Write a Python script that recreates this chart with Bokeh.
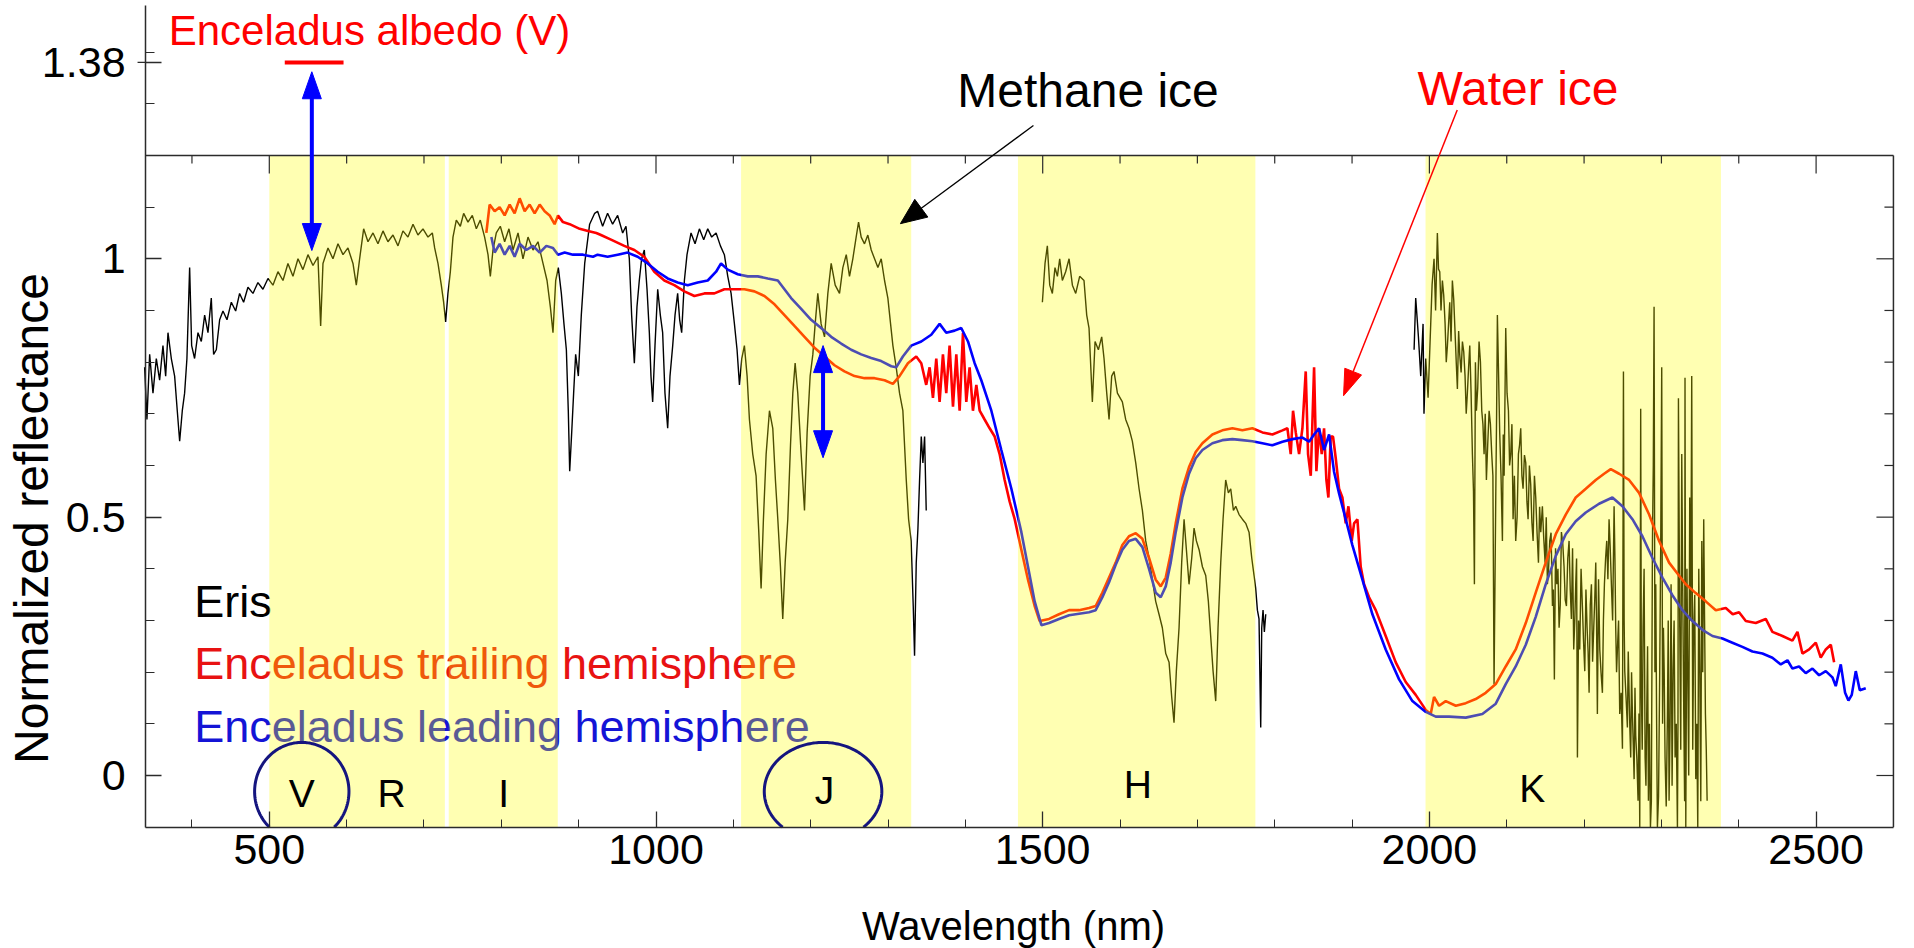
import math
import numpy as np
from bokeh.plotting import figure
from bokeh.models import FixedTicker, CustomJSTickFormatter, Range1d
from bokeh.core.properties import value
from bokeh.embed import file_html
from bokeh.resources import INLINE

# ---------------- data (wavelength nm, normalized reflectance) ----------------
eris_vis = [(338.8,0.790),(341.8,0.689),(345.3,0.815),(349.6,0.740),(353.9,0.807),(358.2,0.765),(362.5,0.832),(366.0,0.773),(369.0,0.857),(373.3,0.807),(377.6,0.773),(381.0,0.706),(384.1,0.647),(387.5,0.706),(390.5,0.740),(393.5,0.807),(397.0,0.983),(399.6,0.832),(403.4,0.807),(407.8,0.857),(412.1,0.840),(416.4,0.891),(420.7,0.857),(425.0,0.924),(428.0,0.815),(431.5,0.824),(435.8,0.882),(440.1,0.899),(445.3,0.882),(450.9,0.916),(456.5,0.899),(461.6,0.933),(466.8,0.916),(472.4,0.945),(478.9,0.933),(485.3,0.954),(491.8,0.941),(498.3,0.962),(504.7,0.949),(511.2,0.975),(517.7,0.958),(524.1,0.991),(530.6,0.966),(537.1,1.000),(543.5,0.979),(550.0,1.008),(556.5,0.987),(562.9,1.004),(566.4,0.870),(569.4,0.991),(575.9,1.021),(582.3,1.000),(588.8,1.029),(595.3,1.008),(601.7,1.021),(608.2,0.991),(612.5,0.949),(616.8,1.000),(622.0,1.058),(627.6,1.033),(634.1,1.050),(640.5,1.029),(647.0,1.054),(653.4,1.033),(659.9,1.046),(666.4,1.025),(672.8,1.054),(679.3,1.042),(685.8,1.067),(692.2,1.046),(698.7,1.058),(705.2,1.042),(710.8,1.050),(713.8,1.021),(718.1,0.991),(722.4,0.949),(725.4,0.916),(728.0,0.878),(731.0,0.933),(734.1,0.975),(737.5,1.042),(741.8,1.075),(747.0,1.063),(751.3,1.088),(756.9,1.071),(762.5,1.084),(767.7,1.058),(772.8,1.075),(778.4,1.042),(782.8,1.008),(785.8,0.966),(789.2,1.017),(793.5,1.050),(798.7,1.063),(804.3,1.033),(809.9,1.058),(815.1,1.017),(821.6,1.050),(828.0,1.000),(834.5,1.042),(841.0,1.017),(847.4,1.033),(853.9,0.991),(859.1,0.958),(863.4,0.907),(866.8,0.857),(870.3,0.958),(873.7,0.983),(877.6,0.933),(881.0,0.874),(884.1,0.824),(886.6,0.706),(888.4,0.589),(891.0,0.664),(893.5,0.740),(896.1,0.815),(899.6,0.773),(903.4,0.891),(907.8,0.991),(914.2,1.067),(920.7,1.088),(924.5,1.092),(931.0,1.063),(937.4,1.088),(943.9,1.067),(950.4,1.084),(956.9,1.050),(961.2,1.063),(965.5,1.000),(968.5,0.891),(972.0,0.798),(975.4,0.907),(978.4,0.958),(981.4,1.000),(984.9,1.017),(988.4,0.941),(991.4,0.857),(993.5,0.773),(995.7,0.723),(998.7,0.832),(1002.2,0.941),(1005.6,0.891),(1008.6,0.857),(1011.6,0.740),(1015.1,0.672),(1018.1,0.773),(1021.6,0.832),(1024.6,0.891),(1028.0,0.933),(1030.6,0.882),(1033.2,0.857),(1036.7,0.958),(1040.1,1.008),(1045.3,1.050),(1050.5,1.029),(1056.1,1.058),(1061.7,1.037),(1066.9,1.058),(1072.0,1.042),(1077.7,1.050),(1083.3,1.025),(1088.4,1.008),(1092.8,0.966),(1097.1,0.933),(1101.4,0.874),(1104.8,0.824),(1107.9,0.756),(1110.9,0.807),(1114.3,0.832),(1117.8,0.773),(1120.8,0.689),(1125.1,0.622),(1129.4,0.580),(1132.9,0.471),(1135.9,0.362),(1138.9,0.496),(1142.4,0.622),(1146.7,0.706),(1151.0,0.672),(1154.4,0.572),(1157.5,0.496),(1160.9,0.404),(1163.9,0.303),(1167.0,0.412),(1170.4,0.496),(1173.9,0.639),(1176.9,0.740),(1179.9,0.798),(1183.3,0.740),(1187.7,0.622),(1192.0,0.513),(1195.4,0.664),(1199.3,0.773),(1202.8,0.815),(1205.8,0.874),(1209.2,0.933),(1213.5,0.874),(1217.9,0.849),(1222.2,0.933),(1226.5,0.991),(1231.7,0.949),(1237.3,0.933),(1241.6,0.983),(1246.0,1.008),(1250.2,0.966),(1254.5,1.000),(1258.8,1.042),(1261.9,1.071),(1265.3,1.042),(1269.6,1.029),(1273.9,1.046),(1278.3,1.017),(1282.6,1.000),(1286.9,0.983),(1291.2,1.000),(1295.5,0.958),(1299.8,0.924),(1303.3,0.874),(1306.3,0.832),(1310.6,0.790),(1314.9,0.740),(1319.2,0.706),(1323.6,0.572),(1326.6,0.496),(1329.9,0.454),(1332.6,0.328),(1334.3,0.232),(1336.5,0.412),(1338.7,0.479),(1340.8,0.572),(1343.0,0.656),(1345.1,0.605),(1347.3,0.656),(1349.4,0.513)]

eris_h = [(1499.6,0.916),(1503.0,0.991),(1506.0,1.025),(1509.1,0.949),(1512.5,0.933),(1515.9,0.983),(1519.0,0.966),(1522.0,1.000),(1525.4,0.958),(1529.7,0.975),(1534.1,1.000),(1538.4,0.949),(1542.7,0.933),(1547.8,0.966),(1553.4,0.958),(1556.9,0.891),(1559.9,0.866),(1564.2,0.723),(1567.7,0.840),(1572.0,0.824),(1576.3,0.849),(1579.3,0.807),(1582.8,0.740),(1585.8,0.689),(1589.2,0.773),(1592.2,0.782),(1596.6,0.740),(1603.0,0.723),(1607.3,0.689),(1611.6,0.672),(1615.9,0.647),(1620.3,0.605),(1624.6,0.555),(1628.9,0.513),(1633.2,0.454),(1637.5,0.421),(1641.8,0.379),(1646.1,0.337),(1650.4,0.312),(1654.7,0.286),(1659.1,0.236),(1663.4,0.219),(1666.8,0.152),(1669.8,0.102),(1672.8,0.202),(1676.3,0.286),(1679.7,0.412),(1682.8,0.496),(1685.8,0.437),(1689.2,0.370),(1692.7,0.421),(1695.7,0.479),(1698.7,0.454),(1702.2,0.437),(1706.5,0.404),(1710.8,0.387),(1714.2,0.337),(1717.2,0.270),(1720.3,0.202),(1723.7,0.144),(1726.7,0.286),(1730.2,0.412),(1733.2,0.496),(1736.6,0.572),(1740.1,0.547),(1743.1,0.555),(1746.6,0.513),(1749.6,0.521),(1753.9,0.505),(1758.2,0.496),(1762.5,0.488),(1766.8,0.471),(1770.3,0.421),(1773.3,0.387),(1775.4,0.362),(1777.6,0.320),(1779.7,0.303),(1781.9,0.093),(1783.2,0.286),(1784.9,0.320),(1786.6,0.278),(1788.4,0.312)]

eris_k = [(1980.2,0.824),(1982.3,0.924),(1985.8,0.849),(1988.8,0.773),(1991.8,0.874),(1993.0,0.700),(1995.3,0.807),(1998.3,0.731),(2001.7,0.874),(2003.5,0.950),(2006.0,1.000),(2008.0,0.900),(2010.3,1.050),(2011.8,0.980),(2013.4,0.975),(2015.0,0.900),(2016.8,0.958),(2018.5,0.930),(2020.3,0.874),(2021.8,0.800),(2023.3,0.832),(2025.0,0.880),(2026.3,0.916),(2028.0,0.840),(2029.7,0.958),(2031.5,0.920),(2033.2,0.857),(2034.7,0.800),(2036.2,0.748),(2037.8,0.860),(2039.2,0.815),(2041.0,0.780),(2042.7,0.840),(2044.4,0.820),(2046.1,0.773),(2047.6,0.700),(2049.1,0.740),(2050.7,0.790),(2052.2,0.832),(2053.9,0.740),(2055.6,0.622),(2057.0,0.550),(2058.2,0.370),(2059.5,0.800),(2060.8,0.706),(2062.5,0.750),(2064.2,0.840),(2066.0,0.800),(2067.7,0.706),(2069.2,0.680),(2070.7,0.622),(2072.2,0.700),(2073.7,0.572),(2075.4,0.640),(2077.2,0.706),(2078.9,0.680),(2080.6,0.622),(2082.1,0.580),(2083.6,0.177),(2085.8,0.538),(2086.9,0.700),(2087.9,0.891),(2089.4,0.780),(2090.9,0.664),(2092.6,0.580),(2094.4,0.454),(2095.5,0.660),(2096.6,0.580),(2098.7,0.866),(2100.4,0.740),(2102.2,0.706),(2103.7,0.600),(2105.2,0.622),(2106.7,0.680),(2108.2,0.496),(2109.9,0.580),(2111.6,0.454),(2113.4,0.500),(2115.1,0.622),(2116.6,0.640),(2118.1,0.672),(2119.6,0.580),(2121.1,0.555),(2122.9,0.620),(2124.6,0.605),(2126.1,0.530),(2127.6,0.496),(2129.3,0.600),(2131.0,0.563),(2132.5,0.490),(2134.1,0.454),(2135.8,0.580),(2137.5,0.538),(2139.2,0.470),(2141.0,0.412),(2142.5,0.520),(2144.0,0.471),(2146.1,0.521),(2147.8,0.460),(2149.6,0.412),(2151.1,0.500),(2152.6,0.370),(2154.1,0.400),(2155.6,0.454),(2157.3,0.470),(2159.1,0.328),(2160.3,0.360),(2161.6,0.186),(2163.1,0.440),(2164.7,0.370),(2166.2,0.400),(2167.7,0.286),(2169.2,0.330),(2170.7,0.471),(2172.4,0.450),(2174.1,0.404),(2175.6,0.340),(2177.2,0.328),(2178.9,0.420),(2180.6,0.454),(2182.1,0.360),(2183.6,0.303),(2185.1,0.440),(2186.6,0.244),(2188.0,0.300),(2189.2,0.370),(2190.3,0.420),(2191.4,0.035),(2192.9,0.300),(2194.4,0.244),(2196.1,0.400),(2197.8,0.328),(2199.3,0.260),(2200.9,0.202),(2202.4,0.360),(2203.9,0.286),(2205.2,0.240),(2206.5,0.160),(2208.0,0.330),(2209.5,0.370),(2211.0,0.220),(2212.5,0.286),(2213.8,0.340),(2215.1,0.412),(2216.1,0.300),(2217.2,0.119),(2218.7,0.380),(2220.3,0.244),(2221.9,0.200),(2223.7,0.160),(2225.0,0.300),(2226.3,0.370),(2227.8,0.420),(2229.3,0.454),(2230.8,0.380),(2232.3,0.496),(2233.8,0.440),(2235.3,0.370),(2236.9,0.300),(2238.8,0.521),(2239.9,0.420),(2240.9,0.286),(2242.0,0.200),(2243.1,0.244),(2244.6,0.300),(2246.1,0.119),(2247.9,0.160),(2249.6,0.052),(2250.9,0.782),(2251.8,0.300),(2252.6,0.202),(2254.3,0.150),(2256.0,0.093),(2257.1,0.240),(2258.2,0.160),(2259.2,0.090),(2260.3,0.035),(2261.4,0.200),(2262.5,0.119),(2263.6,0.060),(2264.7,-0.007),(2265.8,0.170),(2266.8,0.077),(2268.3,0.030),(2269.8,-0.049),(2271.0,0.120),(2272.0,-0.100),(2273.2,0.710),(2274.1,0.160),(2275.2,0.050),(2276.3,0.286),(2277.6,0.400),(2278.9,0.035),(2280.0,-0.020),(2281.0,0.119),(2282.1,0.250),(2283.2,-0.049),(2284.5,0.100),(2285.8,-0.100),(2287.0,-0.050),(2288.4,0.454),(2289.5,0.600),(2290.5,0.907),(2291.6,0.200),(2292.7,0.370),(2293.8,0.100),(2294.8,-0.100),(2296.3,-0.040),(2297.8,0.202),(2299.1,0.450),(2300.4,0.790),(2301.5,0.100),(2302.6,0.286),(2303.6,0.200),(2304.7,0.035),(2306.2,-0.060),(2307.8,0.119),(2308.8,0.300),(2309.9,-0.049),(2311.2,0.100),(2312.5,0.370),(2313.8,-0.020),(2315.1,0.202),(2316.4,0.300),(2317.7,0.035),(2319.2,0.100),(2320.7,-0.100),(2321.4,0.100),(2322.0,0.730),(2323.7,0.286),(2325.0,0.050),(2326.3,0.622),(2327.6,0.350),(2328.9,0.119),(2330.0,-0.050),(2330.5,0.770),(2331.5,-0.100),(2333.0,0.400),(2334.1,0.202),(2335.3,0.000),(2336.6,0.538),(2337.9,0.300),(2339.2,0.773),(2340.5,0.050),(2341.8,0.286),(2343.1,0.350),(2344.4,-0.007),(2345.7,0.100),(2347.0,-0.100),(2348.3,0.400),(2349.6,0.202),(2350.9,-0.050),(2352.2,0.454),(2353.4,0.200),(2354.7,0.496),(2355.8,0.300),(2356.9,0.119),(2358.0,0.050),(2359.1,-0.049)]

enceladus_trailing = [(780.6,1.050),(784.9,1.105),(791.4,1.092),(797.8,1.100),(804.3,1.084),(810.8,1.105),(817.2,1.088),(823.7,1.117),(830.2,1.092),(836.6,1.105),(843.1,1.088),(849.6,1.105),(856.0,1.092),(862.5,1.084),(868.9,1.067),(873.3,1.084),(879.7,1.071),(888.4,1.067),(901.3,1.058),(912.1,1.054),(922.8,1.050),(928.8,1.046),(941.8,1.037),(959.0,1.025),(972.0,1.017),(984.9,1.004),(997.8,0.975),(1010.8,0.958),(1023.7,0.949),(1036.7,0.937),(1049.6,0.928),(1062.6,0.933),(1075.5,0.933),(1088.4,0.941),(1101.4,0.941),(1114.3,0.941),(1127.3,0.937),(1140.2,0.928),(1153.2,0.912),(1166.1,0.891),(1179.0,0.870),(1192.0,0.849),(1204.9,0.828),(1217.9,0.811),(1230.8,0.794),(1243.7,0.782),(1256.7,0.773),(1269.6,0.769),(1282.6,0.769),(1295.5,0.765),(1306.3,0.758),(1314.9,0.773),(1325.7,0.798),(1336.5,0.811),(1343.0,0.798),(1349.4,0.756),(1353.8,0.790),(1358.1,0.731),(1362.4,0.807),(1366.7,0.723),(1371.0,0.815),(1375.3,0.740),(1379.6,0.832),(1384.0,0.714),(1388.3,0.815),(1392.6,0.706),(1396.9,0.857),(1401.2,0.723),(1405.5,0.790),(1409.8,0.706),(1414.2,0.756),(1418.5,0.706),(1424.9,0.689),(1431.4,0.672),(1437.9,0.656),(1444.3,0.622),(1450.8,0.572),(1457.3,0.530),(1463.8,0.496),(1472.4,0.437),(1481.0,0.379),(1489.6,0.328),(1496.1,0.299),(1508.2,0.303),(1521.1,0.312),(1534.1,0.320),(1547.0,0.320),(1559.9,0.324),(1568.5,0.328),(1577.2,0.354),(1585.8,0.383),(1594.4,0.412),(1603.0,0.446),(1611.6,0.463),(1620.3,0.469),(1628.9,0.458),(1637.5,0.421),(1646.1,0.379),(1652.6,0.366),(1659.1,0.383),(1665.5,0.429),(1672.0,0.488),(1680.6,0.555),(1689.2,0.597),(1697.8,0.626),(1706.5,0.643),(1719.4,0.660),(1732.3,0.668),(1745.3,0.672),(1758.2,0.668),(1771.1,0.672),(1784.1,0.664),(1797.0,0.660),(1810.0,0.668),(1816.4,0.672),(1820.7,0.622),(1823.7,0.706),(1827.2,0.664),(1831.5,0.622),(1835.8,0.672),(1840.1,0.782),(1843.1,0.622),(1846.6,0.580),(1850.9,0.790),(1853.9,0.589),(1857.3,0.672),(1860.8,0.622),(1863.8,0.672),(1866.8,0.572),(1869.4,0.538),(1872.4,0.656),(1875.4,0.656),(1878.9,0.614),(1883.2,0.555),(1887.5,0.538),(1891.8,0.488),(1895.3,0.521),(1899.6,0.454),(1902.6,0.488),(1906.9,0.496),(1911.2,0.404),(1915.5,0.370),(1922.0,0.345),(1930.6,0.320),(1943.5,0.270),(1956.5,0.219),(1969.4,0.181),(1982.3,0.156),(1995.3,0.127),(2001.7,0.119),(2006.0,0.152),(2012.5,0.135),(2021.1,0.144),(2034.1,0.135),(2047.0,0.140),(2059.9,0.148),(2072.8,0.160),(2085.8,0.177),(2098.7,0.211),(2111.6,0.244),(2124.6,0.295),(2137.5,0.354),(2150.4,0.412),(2163.4,0.467),(2176.3,0.505),(2189.2,0.538),(2202.2,0.555),(2215.1,0.572),(2225.9,0.584),(2234.5,0.593),(2245.3,0.584),(2258.2,0.572),(2271.1,0.547),(2284.1,0.505),(2297.0,0.454),(2309.9,0.412),(2320.7,0.391),(2331.5,0.370),(2344.4,0.353),(2357.3,0.337),(2370.3,0.320),(2383.2,0.324),(2392.2,0.312),(2400.4,0.316),(2409.1,0.299),(2422.0,0.295),(2434.9,0.303),(2443.5,0.278),(2456.5,0.270),(2469.4,0.261),(2475.9,0.278),(2482.3,0.236),(2491.0,0.244),(2499.6,0.257),(2506.0,0.228),(2512.5,0.244),(2519.0,0.253),(2523.3,0.219)]

enceladus_leading = [(787.1,1.042),(791.4,1.012),(797.8,1.029),(804.3,1.008),(810.8,1.025),(817.2,1.004),(823.7,1.029),(832.3,1.017),(841.0,1.025),(849.6,1.012),(858.2,1.025),(866.8,1.021),(873.3,1.008),(881.9,1.012),(892.7,1.008),(905.6,1.008),(918.5,1.004),(924.5,1.008),(937.4,1.004),(950.4,1.008),(963.3,1.012),(976.3,1.004),(989.2,0.991),(1002.2,0.975),(1015.1,0.962),(1028.0,0.954),(1041.0,0.949),(1053.9,0.954),(1066.9,0.958),(1077.7,0.975),(1084.1,0.991),(1092.8,0.979),(1105.7,0.970),(1118.6,0.966),(1131.6,0.966),(1144.5,0.962),(1157.5,0.958),(1166.1,0.941),(1174.7,0.924),(1187.7,0.903),(1200.6,0.882),(1213.5,0.866),(1226.5,0.849),(1239.4,0.836),(1252.4,0.824),(1265.3,0.815),(1278.3,0.808),(1291.2,0.802),(1304.2,0.792),(1310.6,0.790),(1319.2,0.811),(1330.0,0.832),(1343.0,0.840),(1355.9,0.853),(1366.7,0.874),(1375.3,0.857),(1386.1,0.861),(1394.7,0.866),(1403.4,0.840),(1412.0,0.798),(1420.6,0.765),(1433.6,0.706),(1446.5,0.630),(1459.5,0.555),(1472.4,0.471),(1481.0,0.404),(1489.6,0.337),(1498.3,0.291),(1508.2,0.295),(1521.1,0.303),(1534.1,0.310),(1547.0,0.313),(1559.9,0.316),(1568.5,0.320),(1577.2,0.345),(1585.8,0.374),(1594.4,0.408),(1603.0,0.437),(1611.6,0.454),(1620.3,0.458),(1628.9,0.442),(1637.5,0.400),(1646.1,0.354),(1652.6,0.345),(1659.1,0.366),(1665.5,0.412),(1672.0,0.471),(1680.6,0.538),(1689.2,0.584),(1697.8,0.614),(1706.5,0.630),(1719.4,0.643),(1732.3,0.649),(1745.3,0.651),(1758.2,0.649),(1771.1,0.647),(1784.1,0.643),(1797.0,0.639),(1810.0,0.646),(1822.9,0.651),(1835.8,0.654),(1844.4,0.646),(1850.9,0.660),(1857.3,0.672),(1863.8,0.630),(1870.3,0.660),(1876.7,0.588),(1883.2,0.546),(1891.8,0.496),(1900.4,0.446),(1913.4,0.379),(1926.3,0.312),(1943.5,0.244),(1960.8,0.186),(1978.0,0.144),(1995.3,0.123),(2008.2,0.114),(2025.4,0.114),(2047.0,0.112),(2068.5,0.119),(2085.8,0.139),(2098.7,0.177),(2111.6,0.211),(2124.6,0.253),(2137.5,0.307),(2150.4,0.370),(2163.4,0.425),(2176.3,0.467),(2189.2,0.492),(2202.2,0.509),(2219.4,0.526),(2236.6,0.538),(2249.6,0.521),(2262.5,0.496),(2275.4,0.463),(2288.4,0.421),(2301.3,0.383),(2314.2,0.349),(2327.2,0.320),(2340.1,0.299),(2353.0,0.282),(2366.0,0.270),(2378.9,0.265),(2391.8,0.257),(2404.7,0.249),(2417.7,0.240),(2430.6,0.236),(2443.5,0.228),(2454.3,0.215),(2463.0,0.223),(2469.4,0.207),(2478.0,0.211),(2486.6,0.198),(2495.3,0.207),(2503.9,0.194),(2512.5,0.202),(2521.1,0.190),(2525.4,0.173),(2531.9,0.215),(2537.5,0.160),(2541.8,0.145),(2546.1,0.156),(2551.3,0.202),(2556.5,0.165),(2564.2,0.169)]

band_start = [500, 732, 1110, 1468, 1995]
band_end = [727, 873, 1330, 1775, 2377]
band_letters = ["V", "R", "I", "J", "H", "K"]
band_letter_nm = [542, 658, 803, 1218, 1623, 2133]
circled_bands_nm = [542, 1216]
albedo_v = 1.38
albedo_v_nm = [520, 596]
blue_arrow_nm = [555, 1216]
blue_arrow_top = [1.362, 0.832]
blue_arrow_bottom = [1.016, 0.615]

x_major_ticks = [500, 1000, 1500, 2000, 2500]
x_minor_ticks = list(range(400, 2600, 100))
y_major_ticks = [0, 0.5, 1, 1.38]
y_minor_ticks = [round(0.1 * i, 1) for i in range(0, 15)]

# ---------------- layout / style ----------------
FONT = "Liberation Sans"
W, H = 1914, 948
PX_NM, X_ANCHOR = 0.7734, 655.5      # pixel scale of the x axis, pixel of 1000 nm
PX_U, Y_ZERO = 516.7, 775.0           # pixel scale of the y axis, pixel of 0
XL = 1000 - X_ANCHOR / PX_NM
XR = 1000 + (W - X_ANCHOR) / PX_NM
YT = Y_ZERO / PX_U
YB = -(H - Y_ZERO) / PX_U
PXX = W / (XR - XL)
PXY = H / (YT - YB)
AX_X, AX_Y = 340.0, -0.1              # where the axes sit
FRAME_TOP, FRAME_RIGHT = 1.2, 2600.0
AXC = "#2b2b2b"
TXT_SHIFT = 0.31                      # baseline correction (em)


def tb(v, px):
    return v + TXT_SHIFT * px / PXY


p = figure(width=W, height=H, x_range=Range1d(XL, XR), y_range=Range1d(YB, YT),
           output_backend="svg", toolbar_location=None,
           min_border_left=0, min_border_right=0, min_border_top=0, min_border_bottom=0,
           background_fill_color="white", border_fill_color="white")
p.outline_line_color = None
p.grid.visible = False

for ax in (p.xaxis[0], p.yaxis[0]):
    ax.axis_line_color = AXC
    ax.axis_line_width = 1.5
    ax.major_tick_line_color = AXC
    ax.minor_tick_line_color = AXC
    ax.major_tick_line_width = 1.3
    ax.minor_tick_line_width = 1.0
    ax.major_tick_out = 0
    ax.minor_tick_out = 0
    ax.major_label_text_font = FONT
    ax.major_label_text_font_size = "43px"
    ax.major_label_text_color = "black"

p.xaxis.fixed_location = AX_Y
p.xaxis.bounds = (AX_X, FRAME_RIGHT)
p.xaxis.ticker = FixedTicker(ticks=x_major_ticks, minor_ticks=x_minor_ticks)
p.xaxis.major_tick_in = 16
p.xaxis.minor_tick_in = 8
p.xaxis.major_label_standoff = 8
p.yaxis.fixed_location = AX_X
p.yaxis.bounds = (AX_Y, 1.49)
p.yaxis.ticker = FixedTicker(ticks=y_major_ticks, minor_ticks=y_minor_ticks)
p.yaxis.major_tick_in = 16
p.yaxis.minor_tick_in = 9
p.yaxis.major_label_standoff = 20
p.yaxis.formatter = CustomJSTickFormatter(code="return String(tick);")

# spectra
for seg in (eris_vis, eris_h, eris_k):
    xs, ys = zip(*sorted(seg))
    p.line(list(xs), list(ys), line_color="black", line_width=1.4)
xs, ys = zip(*enceladus_trailing)
p.line(list(xs), list(ys), line_color="#ff0000", line_width=2.6)
xs, ys = zip(*enceladus_leading)
p.line(list(xs), list(ys), line_color="#0000ff", line_width=2.6)

# legend texts (under the band overlay, so they are tinted like the curves)
p.text(x=[403, 403, 403], y=[tb(0.31, 45), tb(0.19, 45), tb(0.068, 45)],
       text=["Eris", "Enceladus trailing hemisphere", "Enceladus leading hemisphere"],
       text_color=["black", "#e81212", "#1414d6"], text_font=value(FONT),
       text_font_size=value("45px"), text_align="left", text_baseline="alphabetic")

# photometric band overlays
p.quad(left=band_start, right=band_end, bottom=AX_Y, top=FRAME_TOP,
       fill_color="#ffff00", fill_alpha=0.3, line_color=None)

# band letters
p.text(x=band_letter_nm, y=[tb(v, 39) for v in (-0.058, -0.058, -0.058, -0.053, -0.041, -0.049)],
       text=band_letters, text_color="black", text_font=value(FONT), text_font_size=value("39px"),
       text_align="center", text_baseline="alphabetic")

# circles around V and J (cut at the x axis)
ex, ey = [], []
for cx, w in zip(circled_bands_nm, (122.0, 152.0)):
    cy, h = -0.031, 0.19
    t0 = math.asin((AX_Y - cy) / (h / 2))
    t = np.linspace(t0, math.pi - t0, 160)
    ex.append(list(cx + w / 2 * np.cos(t)))
    ey.append(list(cy + h / 2 * np.sin(t)))
p.multi_line(ex, ey, line_color="#15157f", line_width=3)

# frame (top and right) with inward ticks
p.segment(x0=[AX_X, FRAME_RIGHT], y0=[FRAME_TOP, AX_Y], x1=[FRAME_RIGHT, FRAME_RIGHT], y1=[FRAME_TOP, FRAME_TOP],
          line_color=AXC, line_width=1.5)
tx = [t for t in x_minor_ticks if t < FRAME_RIGHT]
tl = [18 if t % 500 == 0 else 8 for t in tx]
p.segment(x0=tx, y0=[FRAME_TOP] * len(tx), x1=tx, y1=[FRAME_TOP - L / PXY for L in tl],
          line_color=AXC, line_width=1.2)
ty = [round(0.1 * i, 1) for i in range(0, 12)]
tyl = [17 if i % 5 == 0 else 9 for i in range(0, 12)]
p.segment(x0=[FRAME_RIGHT] * len(ty), y0=ty, x1=[FRAME_RIGHT - L / PXX for L in tyl], y1=ty,
          line_color=AXC, line_width=1.2)
# the 1.38 tick also crosses to the outside of the axis
p.segment(x0=[AX_X - 8 / PXX], y0=[albedo_v], x1=[AX_X], y1=[albedo_v], line_color=AXC, line_width=1.3)


def head(tip, frm, length, width):
    dx = (tip[0] - frm[0]) * PXX
    dy = (tip[1] - frm[1]) * PXY
    L = math.hypot(dx, dy)
    ux, uy = dx / L, dy / L
    nx, ny = -uy, ux
    pts = [(0.0, 0.0),
           (-ux * length + nx * width / 2, -uy * length + ny * width / 2),
           (-ux * length - nx * width / 2, -uy * length - ny * width / 2)]
    return [tip[0] + a / PXX for a, b in pts], [tip[1] + b / PXY for a, b in pts]


def shorten(tip, frm, length):
    dx = (tip[0] - frm[0]) * PXX
    dy = (tip[1] - frm[1]) * PXY
    L = math.hypot(dx, dy)
    f = (L - length) / L
    return (frm[0] + (tip[0] - frm[0]) * f, frm[1] + (tip[1] - frm[1]) * f)


# blue double arrows
hx, hy = [], []
for nm, top, bot in zip(blue_arrow_nm, blue_arrow_top, blue_arrow_bottom):
    a, b = (nm, top), (nm, bot)
    a2 = shorten(a, b, 20)
    b2 = shorten(b, a, 20)
    p.segment(x0=[a2[0]], y0=[a2[1]], x1=[b2[0]], y1=[b2[1]], line_color="#0000ff", line_width=4)
    for t_, f_ in ((a, b), (b, a)):
        X, Y = head(t_, f_, 27, 19)
        hx.append(X)
        hy.append(Y)
p.patches(hx, hy, fill_color="#0000ff", line_color="#0000ff", line_width=1)

# annotation arrows
for start, tip, col, lw, w in (((1488, 1.258), (1316, 1.068), "black", 1.3, 22),
                               ((2036, 1.288), (1889, 0.735), "#ff0000", 1.5, 18)):
    e = shorten(tip, start, 18)
    p.segment(x0=[start[0]], y0=[start[1]], x1=[e[0]], y1=[e[1]], line_color=col, line_width=lw)
    X, Y = head(tip, start, 26, w)
    p.patch(X, Y, fill_color=col, line_color=col, line_width=1)

# albedo marker
p.segment(x0=[albedo_v_nm[0]], y0=[albedo_v], x1=[albedo_v_nm[1]], y1=[albedo_v],
          line_color="#ff0000", line_width=4)

# annotation texts
p.text(x=[1558.6], y=[tb(1.2967, 48)], text=["Methane ice"], text_color="black", text_font=value(FONT),
       text_font_size=value("48px"), text_align="center", text_baseline="alphabetic")
p.text(x=[2114.6], y=[tb(1.30, 48)], text=["Water ice"], text_color="#ff0000", text_font=value(FONT),
       text_font_size=value("48px"), text_align="center", text_baseline="alphabetic")
p.text(x=[629.6], y=[tb(1.4167, 42)], text=["Enceladus albedo (V)"], text_color="#ff0000", text_font=value(FONT),
       text_font_size=value("42px"), text_align="center", text_baseline="alphabetic")

# axis titles
p.text(x=[1462.3], y=[tb(-0.3155, 40)], text=["Wavelength (nm)"], text_color="black", text_font=value(FONT),
       text_font_size=value("40px"), text_align="center", text_baseline="alphabetic")
p.text(x=[212.0 - TXT_SHIFT * 48 / PXX], y=[0.4974], text=["Normalized reflectance"], angle=math.pi / 2,
       text_color="black", text_font=value(FONT), text_font_size=value("48px"),
       text_align="center", text_baseline="alphabetic")

open("out.html", "w").write(file_html(p, INLINE))
